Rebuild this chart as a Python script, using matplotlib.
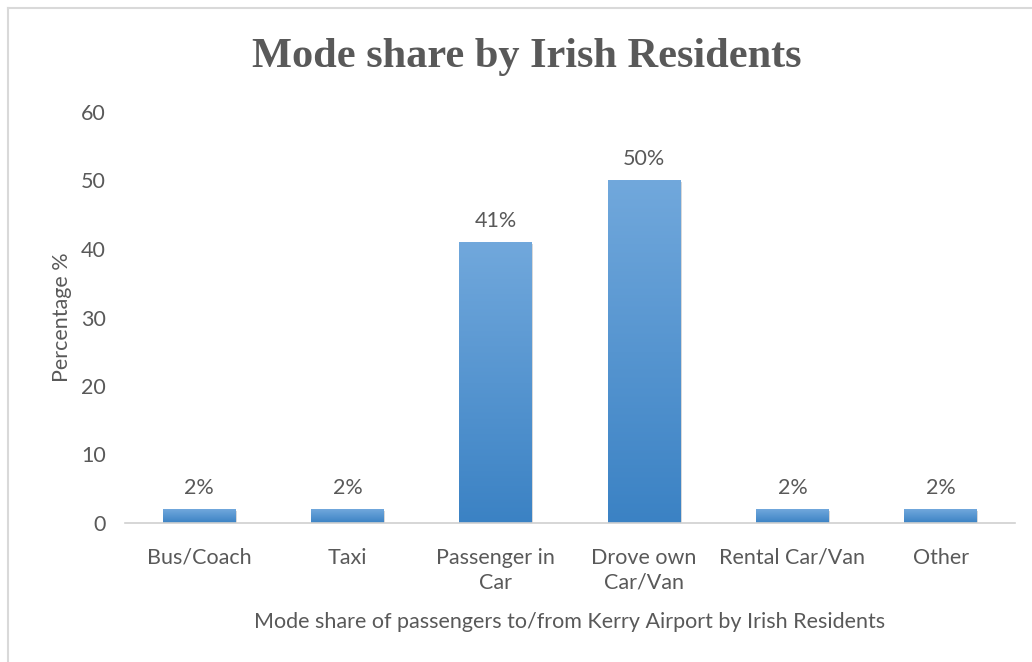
import numpy as np
import matplotlib.pyplot as plt
from matplotlib.colors import LinearSegmentedColormap
from matplotlib.lines import Line2D

# 各出行方式占比
modes = ["Bus/Coach", "Taxi", "Passenger in\nCar", "Drove own\nCar/Van", "Rental Car/Van", "Other"]
share = [2, 2, 41, 50, 2, 2]
yticks = [0, 10, 20, 30, 40, 50, 60]

W, H = 1032, 662
fig = plt.figure(figsize=(W / 100, H / 100), dpi=100)
ax = fig.add_axes([125 / W, 1 - 523 / H, 890 / W, 411 / H])

txt = "#595959"
font = "Lato"
fs = 15.5

x = np.arange(len(modes))
bars = ax.bar(x, share, width=0.49, color="none", edgecolor="none", zorder=2)

# 渐变填充，上浅下深
cmap = LinearSegmentedColormap.from_list("blu", ["#3b82c4", "#71a8dc"])
grad = np.linspace(0, 1, 256).reshape(-1, 1)
for b in bars:
    x0, w, h = b.get_x(), b.get_width(), b.get_height()
    # 阴影
    ax.bar(x0 + w / 2 + 0.008, h, width=w, bottom=-0.25, color="#d8d8d8", zorder=1)
    ax.imshow(grad, cmap=cmap, origin="lower", aspect="auto",
              extent=[x0, x0 + w, 0, h], zorder=2)

for b, v in zip(bars, share):
    ax.text(b.get_x() + b.get_width() / 2, v + 3.1, f"{v}%", ha="center", va="center",
            fontsize=fs, color=txt, family=font)

ax.set_xlim(-0.5, len(modes) - 0.5)
ax.set_ylim(0, 60)
ax.set_yticks(yticks)
ax.set_yticklabels([str(t) for t in yticks], fontsize=fs, color=txt, family=font)
ax.set_xticks(x)
ax.set_xticklabels(modes, fontsize=fs, color=txt, family=font, linespacing=1.3)
ax.tick_params(axis="both", length=0)
ax.tick_params(axis="y", pad=14)
ax.tick_params(axis="x", pad=18)

for s in ["top", "right", "left"]:
    ax.spines[s].set_visible(False)
ax.spines["bottom"].set_color("#d0d0d0")
ax.spines["bottom"].set_linewidth(1.2)
ax.spines["bottom"].set_zorder(3)

ax.set_ylabel("Percentage %", fontsize=fs, color=txt, family=font, labelpad=6)
ax.set_xlabel("Mode share of passengers to/from Kerry Airport by Irish Residents",
              fontsize=fs, color=txt, family=font, labelpad=14)

fig.text(527 / W, 1 - 57 / H, "Mode share by Irish Residents", ha="center", va="center",
         fontsize=30.5, fontweight="bold", color=txt, family="Liberation Serif")

# 外框
fig.add_artist(Line2D([8 / W, 8 / W], [0, 1 - 8 / H], color="#d9d9d9", lw=1.5))
fig.add_artist(Line2D([8 / W, 1], [1 - 8 / H, 1 - 8 / H], color="#d9d9d9", lw=1.5))

fig.savefig("out.png", dpi=100)
